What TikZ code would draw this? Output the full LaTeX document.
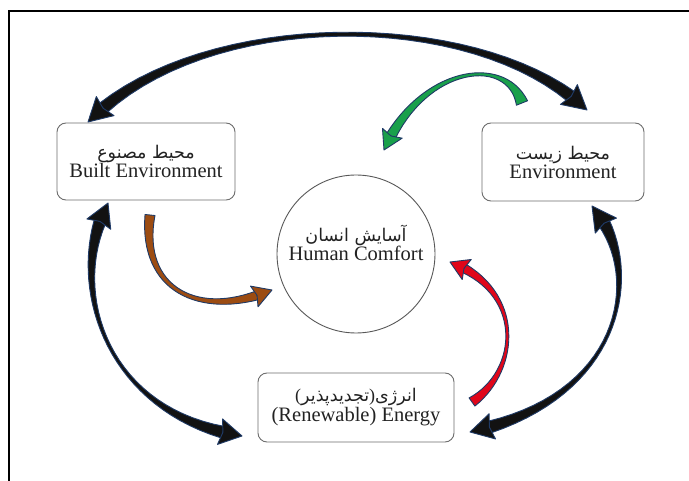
\documentclass[tikz,border=0pt]{standalone}
\usepackage{fontspec}
\setmainfont{Liberation Serif}
\newfontfamily\af[Script=Arabic]{DejaVu Sans}
\TeXXeTstate=1
\usetikzlibrary{calc}

\definecolor{edgeblue}{HTML}{1F3A66}
\definecolor{arrblack}{HTML}{121212}
\definecolor{arrgreen}{HTML}{19A04B}
\definecolor{arrbrown}{HTML}{9C4C12}
\definecolor{arrred}{HTML}{E0061A}
\definecolor{boxline}{HTML}{6E6E6E}
\definecolor{txt}{HTML}{222222}

\newcommand\fa[1]{\hbox{\af\fontsize{17.5}{19}\selectfont\beginR #1\endR}}

\def\headw{26}
% #1 prefix, #2 fill colour, #3 ps, #4 pe, #5 ws, #6 wm, #7 we, #8 tm, #9 path
\newcommand\ribbon[9]{%
  \path #9 coordinate[pos=0] (#1s) coordinate[pos=1] (#1e)
    foreach \i [evaluate=\i as \p using {#3+(#4-#3)*\i/30}] in {0,...,30} {coordinate[pos=\p] (#1q\i)};
  \foreach \i in {0,...,30}{%
    \pgfmathsetmacro\tt{\i/30}%
    \pgfmathsetmacro\hw{0.5*(\tt<#8 ? #6+(#5-#6)*(1-\tt/#8)^2 : #6+(#7-#6)*((\tt-#8)/(1-#8))^2)}%
    \ifnum\i<30
      \pgfmathtruncatemacro\j{\i+1}%
      \coordinate (#1L\i) at ($(#1q\i)!\hw pt!90:(#1q\j)$);
      \coordinate (#1R\i) at ($(#1q\i)!\hw pt!-90:(#1q\j)$);
    \else
      \coordinate (#1L\i) at ($(#1q\i)!\hw pt!-90:(#1q29)$);
      \coordinate (#1R\i) at ($(#1q\i)!\hw pt!90:(#1q29)$);
    \fi
  }%
  \filldraw[fill=#2, draw=edgeblue, line width=0.9pt, line join=round]
    (#1L0) foreach \i in {1,...,30}{ -- (#1L\i)} foreach \i in {30,...,0}{ -- (#1R\i)} -- cycle;
  \pgfmathsetmacro\hh{\headw/2}%
  \coordinate (#1hb) at ($(#1q30)!3pt!180:(#1e)$);
  \coordinate (#1c1) at ($(#1hb)!\hh pt!90:(#1e)$);
  \coordinate (#1c2) at ($(#1hb)!\hh pt!-90:(#1e)$);
  \filldraw[fill=#2, draw=edgeblue, line width=0.9pt, line join=round]
    (#1c1) -- (#1e) -- (#1c2) -- (#1q30) -- cycle;
  \ifdim #3pt>0pt
    \coordinate (#1hs) at ($(#1q0)!3pt!180:(#1s)$);
    \coordinate (#1d1) at ($(#1hs)!\hh pt!90:(#1s)$);
    \coordinate (#1d2) at ($(#1hs)!\hh pt!-90:(#1s)$);
    \filldraw[fill=#2, draw=edgeblue, line width=0.9pt, line join=round]
      (#1d1) -- (#1s) -- (#1d2) -- (#1q0) -- cycle;
  \fi
}

\begin{document}
\begin{tikzpicture}[x=1pt, y=-1pt,
  box/.style={draw=boxline, line width=0.9pt, rounded corners=9pt, fill=white,
    align=center, text=txt, font=\fontsize{20.5}{22}\selectfont},
  ring/.style={draw=boxline!80!black, line width=0.9pt, circle, fill=white}]
\useasboundingbox (0,0) rectangle (689,481);
\fill[white] (0,0) rectangle (689,481);
\draw[line width=2.4pt] (9,481) -- (9,11) -- (689,11);

% nodes
\node[box, minimum width=178pt, minimum height=77pt] (be) at (146,161.5)
  {\fa{محیط مصنوع}\\[-3pt]Built Environment};
\node[box, minimum width=162pt, minimum height=78pt] (en) at (563,162)
  {\fa{محیط زیست}\\[-3pt]Environment};
\node[box, minimum width=196pt, minimum height=69pt] (re) at (356,407.5)
  {\hbox{{\fontsize{18}{19}\selectfont(}\fa{تجدیدپذیر}{\fontsize{18}{19}\selectfont)}\fa{انرژی}}\\[-2pt](Renewable) Energy};
\node[ring, minimum size=158pt] (hc) at (356,254) {};
\node[align=center, text=txt, font=\fontsize{20.5}{22}\selectfont] (hct) at (356,243)
  {\fa{آسایش انسان}\\[-3pt]Human Comfort};

% arrow end points
\coordinate (taS) at (88,122);   \coordinate (taE) at (587,110);
\coordinate (gaS) at (522,103);  \coordinate (gaE) at (384,150);
\coordinate (baS) at (150,215);  \coordinate (baE) at (272,290);
\coordinate (raS) at (472,402);  \coordinate (raE) at (450,262);
\coordinate (laS) at (108,203);  \coordinate (laE) at (242,436);
\coordinate (rsS) at (592,206);  \coordinate (rsE) at (470,432);

\def\headw{26}
\ribbon{ta}{arrblack}{0.042}{0.954}{12}{4}{12}{0.5}{(taS) .. controls +(112,-115) and +(-107,-103) .. (taE)}
\ribbon{la}{arrblack}{0.072}{0.952}{12}{3}{12}{0.55}{(laS) .. controls +(-43,82) and +(-137,-21) .. (laE)}
\ribbon{rs}{arrblack}{0.088}{0.958}{12}{3}{12}{0.5}{(rsS) .. controls +(52,59) and +(160,-35) .. (rsE)}
\def\headw{22}
\ribbon{ga}{arrgreen}{0}{0.94}{12}{3}{10}{0.4}{(gaS) .. controls +(-17,-50) and +(36,-82) .. (gaE)}
\ribbon{ba}{arrbrown}{0}{0.93}{10}{4}{9}{0.55}{(baS) .. controls +(-10,75) and +(-72,30) .. (baE)}
\ribbon{ra}{arrred}{0}{0.933}{10}{3}{9}{0.5}{(raS) .. controls +(48,-32) and +(75,28) .. (raE)}
\end{tikzpicture}
\end{document}
